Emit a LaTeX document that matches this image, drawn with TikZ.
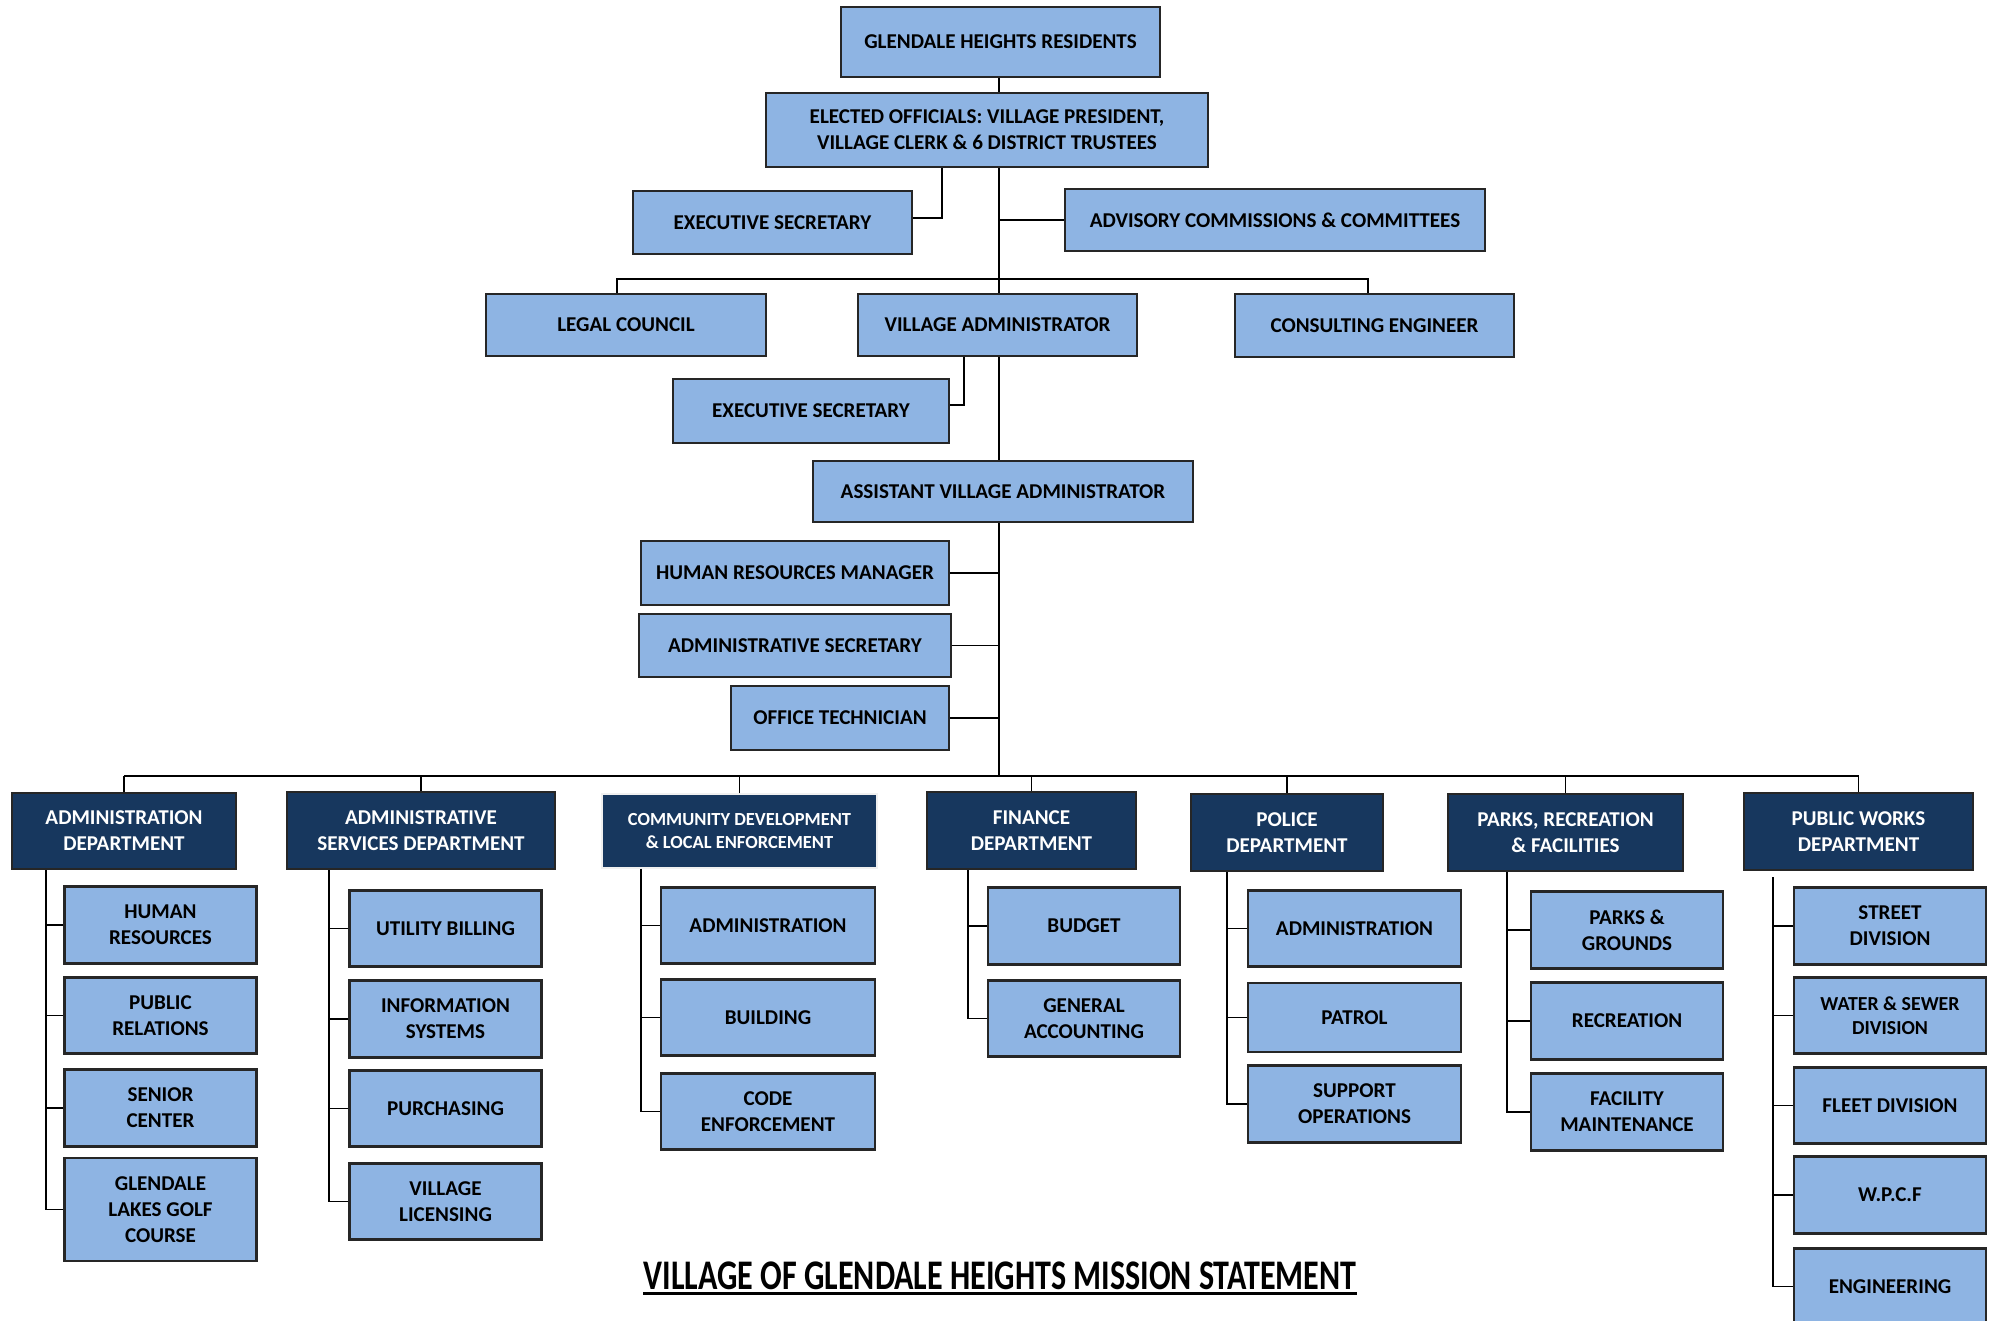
\documentclass[tikz,border=0pt]{standalone}
\usepackage{graphicx}
\usepackage{fontspec}
\setmainfont{Carlito}

\definecolor{boxfill}{HTML}{8EB4E3}
\definecolor{deptfill}{HTML}{17375E}
\definecolor{boxline}{HTML}{262626}

\tikzset{
    unit/.style={draw=boxline, fill=boxfill, line width=1.5pt, inner sep=0pt, align=center,
        font=\bfseries\fontsize{12}{14.8}\selectfont},
    dept/.style={unit, fill=deptfill, text=white},
    sub/.style={unit, minimum width=3.84cm, minimum height=1.53cm},
    link/.style={line width=1.1pt},
}

\begin{document}
\begin{tikzpicture}
    \useasboundingbox (0,0) rectangle (39.9,-26.4);

    % top of the chart
    \node[unit, minimum width=6.38cm, minimum height=1.40cm] (res) at (20.01,-0.84) {GLENDALE HEIGHTS RESIDENTS};
    \node[unit, minimum width=8.84cm, minimum height=1.48cm] (elect) at (19.74,-2.60) {ELECTED OFFICIALS: VILLAGE PRESIDENT,\\VILLAGE CLERK \& 6 DISTRICT TRUSTEES};
    \node[unit, minimum width=5.58cm, minimum height=1.26cm] (execA) at (15.45,-4.45) {EXECUTIVE SECRETARY};
    \node[unit, minimum width=8.40cm, minimum height=1.24cm] (advis) at (25.50,-4.40) {ADVISORY COMMISSIONS \& COMMITTEES};

    \node[unit, minimum width=5.60cm, minimum height=1.24cm] (legal) at (12.52,-6.50) {LEGAL COUNCIL};
    \node[unit, minimum width=5.58cm, minimum height=1.24cm] (vadmin) at (19.95,-6.50) {VILLAGE ADMINISTRATOR};
    \node[unit, minimum width=5.58cm, minimum height=1.26cm] (consult) at (27.49,-6.51) {CONSULTING ENGINEER};
    \node[unit, minimum width=5.52cm, minimum height=1.28cm] (execB) at (16.22,-8.22) {EXECUTIVE SECRETARY};

    \node[unit, minimum width=7.60cm, minimum height=1.22cm] (avadmin) at (20.06,-9.83) {ASSISTANT VILLAGE ADMINISTRATOR};
    \node[unit, minimum width=6.16cm, minimum height=1.28cm] (hrman) at (15.90,-11.46) {HUMAN RESOURCES MANAGER};
    \node[unit, minimum width=6.24cm, minimum height=1.26cm] (admsec) at (15.90,-12.91) {ADMINISTRATIVE SECRETARY};
    \node[unit, minimum width=4.36cm, minimum height=1.28cm] (offtech) at (16.80,-14.36) {OFFICE TECHNICIAN};

    % trunk and side links
    \coordinate (trunk) at (19.98,0);
    \coordinate (deptbar) at (0,-15.52);
    \coordinate (eaLink) at (18.84,-4.36);
    \coordinate (ebLink) at (19.28,-8.10);
    \coordinate (legLink) at (12.34,-5.58);
    \coordinate (conLink) at (27.36,-5.58);

    \draw[link] (res.south -| trunk) -- (elect.north -| trunk);
    \draw[link] (elect.south -| trunk) -- (vadmin.north -| trunk);
    \draw[link] (vadmin.south -| trunk) -- (avadmin.north -| trunk);
    \draw[link] (avadmin.south -| trunk) -- (deptbar -| trunk);
    \draw[link] (elect.south -| eaLink) -- (eaLink) -- (eaLink -| execA.east);
    \draw[link] (advis.west) -- (advis.west -| trunk);
    \draw[link] (legal.north -| legLink) -- (legLink) -- (conLink) -- (consult.north -| conLink);
    \draw[link] (vadmin.south -| ebLink) -- (ebLink) -- (ebLink -| execB.east);
    \foreach \n in {hrman,admsec,offtech}
        \draw[link] (\n.east) -- (\n.east -| trunk);

    % departments
    \node[dept, minimum width=4.48cm, minimum height=1.52cm] (dAdm) at (2.48,-16.62) {ADMINISTRATION\\DEPARTMENT};
    \node[dept, minimum width=5.36cm, minimum height=1.54cm] (dSvc) at (8.42,-16.61) {ADMINISTRATIVE\\SERVICES DEPARTMENT};
    \node[dept, draw=gray!12, line width=0.8pt, minimum width=5.50cm, minimum height=1.48cm,
        font=\bfseries\fontsize{10.5}{13.2}\selectfont] (dCom) at (14.79,-16.62) {COMMUNITY DEVELOPMENT\\\& LOCAL ENFORCEMENT};
    \node[dept, minimum width=4.18cm, minimum height=1.54cm] (dFin) at (20.63,-16.61) {FINANCE\\DEPARTMENT};
    \node[dept, minimum width=3.84cm, minimum height=1.54cm] (dPol) at (25.74,-16.65) {POLICE\\DEPARTMENT};
    \node[dept, minimum width=4.70cm, minimum height=1.54cm] (dPrk) at (31.31,-16.65) {PARKS, RECREATION\\\& FACILITIES};
    \node[dept, minimum width=4.58cm, minimum height=1.54cm] (dPW) at (37.17,-16.63) {PUBLIC WORKS\\DEPARTMENT};

    \draw[link] (dAdm.north |- deptbar) -- (dPW.north |- deptbar);
    \foreach \d in {dAdm,dSvc,dCom,dFin,dPol,dPrk,dPW}
        \draw[link] (\d.north) -- (\d.north |- deptbar);

    % administration
    \node[sub] (aHR) at (3.21,-18.50) {HUMAN\\RESOURCES};
    \node[sub] (aPR) at (3.21,-20.31) {PUBLIC\\RELATIONS};
    \node[sub] (aSen) at (3.21,-22.16) {SENIOR\\CENTER};
    \node[sub, minimum height=2.06cm] (aGolf) at (3.21,-24.19) {GLENDALE\\LAKES GOLF\\COURSE};

    % administrative services
    \node[sub] (sUB) at (8.91,-18.57) {UTILITY BILLING};
    \node[sub] (sIS) at (8.91,-20.38) {INFORMATION\\SYSTEMS};
    \node[sub] (sPur) at (8.91,-22.17) {PURCHASING};
    \node[sub] (sLic) at (8.91,-24.03) {VILLAGE\\LICENSING};

    % community development
    \node[sub, minimum width=4.28cm] (cAdm) at (15.36,-18.51) {ADMINISTRATION};
    \node[sub, minimum width=4.28cm] (cBld) at (15.36,-20.35) {BUILDING};
    \node[sub, minimum width=4.28cm] (cCode) at (15.36,-22.23) {CODE\\ENFORCEMENT};

    % finance
    \node[sub] (fBud) at (21.68,-18.52) {BUDGET};
    \node[sub] (fGen) at (21.68,-20.37) {GENERAL\\ACCOUNTING};

    % police
    \node[sub, minimum width=4.26cm] (pAdm) at (27.09,-18.57) {ADMINISTRATION};
    \node[sub, minimum width=4.26cm, minimum height=1.38cm] (pPat) at (27.09,-20.35) {PATROL};
    \node[sub, minimum width=4.26cm] (pSup) at (27.09,-22.08) {SUPPORT\\OPERATIONS};

    % parks
    \node[sub] (rPG) at (32.54,-18.60) {PARKS \&\\GROUNDS};
    \node[sub] (rRec) at (32.54,-20.42) {RECREATION};
    \node[sub] (rFac) at (32.54,-22.24) {FACILITY\\MAINTENANCE};

    % public works
    \node[sub] (wSt) at (37.80,-18.52) {STREET\\DIVISION};
    \node[sub, font=\bfseries\fontsize{11.3}{14}\selectfont] (wWat) at (37.80,-20.31) {WATER \& SEWER\\DIVISION};
    \node[sub] (wFl) at (37.80,-22.11) {FLEET DIVISION};
    \node[sub] (wWP) at (37.80,-23.90) {W.P.C.F};
    \node[sub] (wEng) at (37.80,-25.73) {ENGINEERING};

    % spines down each department
    \coordinate (aSpine) at (0.92,0);
    \coordinate (sSpine) at (6.58,0);
    \coordinate (cSpine) at (12.82,0);
    \coordinate (fSpine) at (19.36,0);
    \coordinate (pSpine) at (24.54,0);
    \coordinate (rSpine) at (30.14,0);
    \coordinate (wSpine) at (35.46,-17.54);

    \draw[link] (dAdm.south -| aSpine) |- (aGolf.west);
    \draw[link] (dSvc.south -| sSpine) |- (sLic.west);
    \draw[link] (dCom.south -| cSpine) |- (cCode.west);
    \draw[link] (dFin.south -| fSpine) |- (fGen.west);
    \draw[link] (dPol.south -| pSpine) |- (pSup.west);
    \draw[link] (dPrk.south -| rSpine) |- (rFac.west);
    \draw[link] (wSpine) |- (wEng.west);

    \foreach \n in {aHR,aPR,aSen}
        \draw[link] (\n.west) -- (\n.west -| aSpine);
    \foreach \n in {sUB,sIS,sPur}
        \draw[link] (\n.west) -- (\n.west -| sSpine);
    \foreach \n in {cAdm,cBld}
        \draw[link] (\n.west) -- (\n.west -| cSpine);
    \draw[link] (fBud.west) -- (fBud.west -| fSpine);
    \foreach \n in {pAdm,pPat}
        \draw[link] (\n.west) -- (\n.west -| pSpine);
    \foreach \n in {rPG,rRec}
        \draw[link] (\n.west) -- (\n.west -| rSpine);
    \foreach \n in {wSt,wWat,wFl,wWP}
        \draw[link] (\n.west) -- (\n.west -| wSpine);

    % mission statement heading
    \node[inner sep=0pt, anchor=base, font=\bfseries\fontsize{24}{28}\selectfont] (title) at (20.00,-25.78)
        {\scalebox{0.76}[1]{VILLAGE OF GLENDALE HEIGHTS MISSION STATEMENT}};
    \draw[line width=1.7pt] ([yshift=-2.3pt]title.base west) -- ([yshift=-2.3pt]title.base east);
\end{tikzpicture}
\end{document}
